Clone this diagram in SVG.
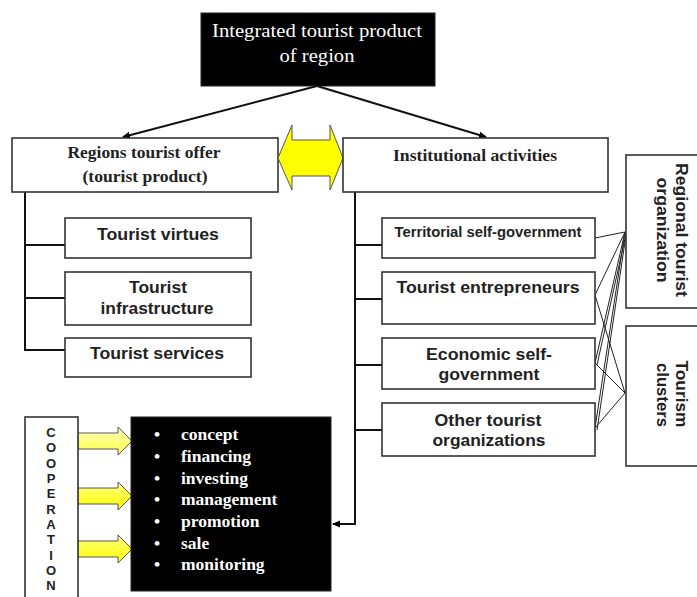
<svg xmlns="http://www.w3.org/2000/svg" width="697" height="597" viewBox="0 0 697 597">
<style>
.box{fill:#fff;stroke:#333;stroke-width:1.6}
.blk{fill:#000;stroke:#222;stroke-width:1}
.serif{font-family:"Liberation Serif","Times New Roman",serif}
.sans{font-family:"Liberation Sans",Arial,sans-serif;font-weight:bold;fill:#222}
.ln{stroke:#111;stroke-width:2;fill:none}
.thin{stroke:#222;stroke-width:1;fill:none}
.yel{stroke:#555;stroke-width:1}
</style>
<defs>
<marker id="ah" markerWidth="8" markerHeight="8" refX="7" refY="4" orient="auto" markerUnits="userSpaceOnUse">
<path d="M0,0.5 L8,4 L0,7.5 Z" fill="#000"/>
</marker>
<linearGradient id="yg1" x1="0" y1="0" x2="0" y2="1">
<stop offset="0" stop-color="#ffffc0"/><stop offset="1" stop-color="#ffff40"/>
</linearGradient>
<linearGradient id="yg2" x1="0" y1="0" x2="0" y2="1">
<stop offset="0" stop-color="#ffff80"/><stop offset="1" stop-color="#ffff00"/>
</linearGradient>
</defs>

<g id="connectors">
<line class="ln" x1="317" y1="86" x2="123" y2="137" stroke-width="2.5" marker-end="url(#ah)"/>
<line class="ln" x1="317" y1="86" x2="486" y2="137" stroke-width="2.5" marker-end="url(#ah)"/>
<polyline class="ln" points="25,192 25,350 65,350"/>
<line class="ln" x1="25" y1="245" x2="65" y2="245"/>
<line class="ln" x1="25" y1="298" x2="65" y2="298"/>
<polyline class="ln" stroke-width="2.5" points="355,192 355,524 333,524" marker-end="url(#ah)"/>
<line class="ln" x1="355" y1="245" x2="382" y2="245"/>
<line class="ln" x1="355" y1="299" x2="382" y2="299"/>
<line class="ln" x1="355" y1="365" x2="382" y2="365"/>
<line class="ln" x1="355" y1="430" x2="382" y2="430"/>
<polyline class="thin" points="595,238 605,236 625,232"/>
<line class="thin" x1="595" y1="295" x2="625" y2="232"/>
<line class="thin" x1="595" y1="363" x2="625" y2="232"/>
<line class="thin" x1="597" y1="365" x2="626" y2="234"/>
<line class="thin" x1="595" y1="428" x2="625" y2="232"/>
<line class="thin" x1="597" y1="430" x2="626" y2="235"/>
<line class="thin" x1="595" y1="295" x2="625" y2="393"/>
<line class="thin" x1="595" y1="363" x2="625" y2="393"/>
<line class="thin" x1="595" y1="428" x2="625" y2="393"/>
<polygon class="yel" fill="url(#yg1)" points="78,433 118,433 118,427 132,441 118,455 118,449 78,449"/>
<polygon class="yel" fill="url(#yg2)" points="78,488 118,488 118,482 132,496 118,510 118,504 78,504"/>
<polygon class="yel" fill="url(#yg2)" points="78,541 118,541 118,535 132,549 118,563 118,557 78,557"/>
</g>

<g id="integrated">
<rect class="blk" x="201" y="13" width="234" height="73"/>
<text class="serif" fill="#fff" font-size="18.5" text-anchor="middle" x="317" y="37" textLength="210" lengthAdjust="spacingAndGlyphs">Integrated tourist product</text>
<text class="serif" fill="#fff" font-size="18.5" text-anchor="middle" x="317" y="62" textLength="75" lengthAdjust="spacingAndGlyphs">of region</text>
</g>

<g id="regions-offer">
<rect class="box" x="12" y="138" width="266" height="54"/>
<text class="serif" font-weight="bold" font-size="16.5" fill="#222" text-anchor="middle" x="144" y="158" textLength="153" lengthAdjust="spacingAndGlyphs">Regions tourist offer</text>
<text class="serif" font-weight="bold" font-size="16.5" fill="#222" text-anchor="middle" x="145" y="182" textLength="125" lengthAdjust="spacingAndGlyphs">(tourist product)</text>
</g>

<g id="double-arrow">
<polygon fill="#ffff00" stroke="#555" stroke-width="1" points="278,158 292,125 292,140 330,140 330,125 343,158 330,190 330,176 292,176 292,190"/>
</g>

<g id="institutional">
<rect class="box" x="343" y="138" width="265" height="54"/>
<text class="serif" font-weight="bold" font-size="16.5" fill="#222" text-anchor="middle" x="475" y="161" textLength="164" lengthAdjust="spacingAndGlyphs">Institutional activities</text>
</g>

<g id="tourist-virtues">
<rect class="box" x="65" y="218" width="186" height="40"/>
<text class="sans" font-size="17" text-anchor="middle" x="158" y="240" textLength="122" lengthAdjust="spacingAndGlyphs">Tourist virtues</text>
</g>
<g id="tourist-infrastructure">
<rect class="box" x="65" y="272" width="186" height="53"/>
<text class="sans" font-size="17" text-anchor="middle" x="158" y="293" textLength="58" lengthAdjust="spacingAndGlyphs">Tourist</text>
<text class="sans" font-size="17" text-anchor="middle" x="157" y="314" textLength="113" lengthAdjust="spacingAndGlyphs">infrastructure</text>
</g>
<g id="tourist-services">
<rect class="box" x="65" y="338" width="186" height="39"/>
<text class="sans" font-size="17" text-anchor="middle" x="157" y="359" textLength="134" lengthAdjust="spacingAndGlyphs">Tourist services</text>
</g>

<g id="territorial">
<rect class="box" x="382" y="218" width="213" height="40"/>
<text class="sans" font-size="14" text-anchor="middle" x="488" y="237" textLength="187" lengthAdjust="spacingAndGlyphs">Territorial self-government</text>
</g>
<g id="entrepreneurs">
<rect class="box" x="382" y="272" width="213" height="52"/>
<text class="sans" font-size="17" text-anchor="middle" x="488" y="293" textLength="183" lengthAdjust="spacingAndGlyphs">Tourist entrepreneurs</text>
</g>
<g id="economic">
<rect class="box" x="382" y="338" width="213" height="51"/>
<text class="sans" font-size="17" text-anchor="middle" x="489" y="360" textLength="126" lengthAdjust="spacingAndGlyphs">Economic self-</text>
<text class="sans" font-size="17" text-anchor="middle" x="489" y="380" textLength="101" lengthAdjust="spacingAndGlyphs">government</text>
</g>
<g id="other-organizations">
<rect class="box" x="382" y="403" width="213" height="53"/>
<text class="sans" font-size="17" text-anchor="middle" x="488" y="426" textLength="107" lengthAdjust="spacingAndGlyphs">Other tourist</text>
<text class="sans" font-size="17" text-anchor="middle" x="489" y="446" textLength="113" lengthAdjust="spacingAndGlyphs">organizations</text>
</g>

<g id="regional-organization">
<rect class="box" x="626" y="155" width="80" height="153"/>
<text class="sans" font-size="17" text-anchor="middle" transform="translate(676,230) rotate(90)" textLength="134" lengthAdjust="spacingAndGlyphs">Regional tourist</text>
<text class="sans" font-size="17" text-anchor="middle" transform="translate(657,230) rotate(90)" textLength="105" lengthAdjust="spacingAndGlyphs">organization</text>
</g>
<g id="tourism-clusters">
<rect class="box" x="626" y="326" width="80" height="140"/>
<text class="sans" font-size="17" text-anchor="middle" transform="translate(676,394) rotate(90)" textLength="67" lengthAdjust="spacingAndGlyphs">Tourism</text>
<text class="sans" font-size="17" text-anchor="middle" transform="translate(657,395) rotate(90)" textLength="64" lengthAdjust="spacingAndGlyphs">clusters</text>
</g>

<g id="cooperation">
<rect class="box" x="25" y="417" width="53" height="190"/>
<g class="sans" font-size="13" text-anchor="middle">
<text x="51" y="437">C</text>
<text x="51" y="452">O</text>
<text x="51" y="468">O</text>
<text x="51" y="483">P</text>
<text x="51" y="498">E</text>
<text x="51" y="514">R</text>
<text x="51" y="529">A</text>
<text x="51" y="544">T</text>
<text x="51" y="560">I</text>
<text x="51" y="575">O</text>
<text x="51" y="590">N</text>
</g>
</g>

<g id="activities-list">
<rect class="blk" x="131" y="417" width="200" height="174"/>
<g class="serif" fill="#fff" font-size="17.5" font-weight="bold">
<text x="154" y="440">•</text><text x="181" y="440">concept</text>
<text x="154" y="462">•</text><text x="181" y="462">financing</text>
<text x="154" y="484">•</text><text x="181" y="484">investing</text>
<text x="154" y="505">•</text><text x="181" y="505">management</text>
<text x="154" y="527">•</text><text x="181" y="527">promotion</text>
<text x="154" y="549">•</text><text x="181" y="549">sale</text>
<text x="154" y="570">•</text><text x="181" y="570">monitoring</text>
</g>
</g>
</svg>
